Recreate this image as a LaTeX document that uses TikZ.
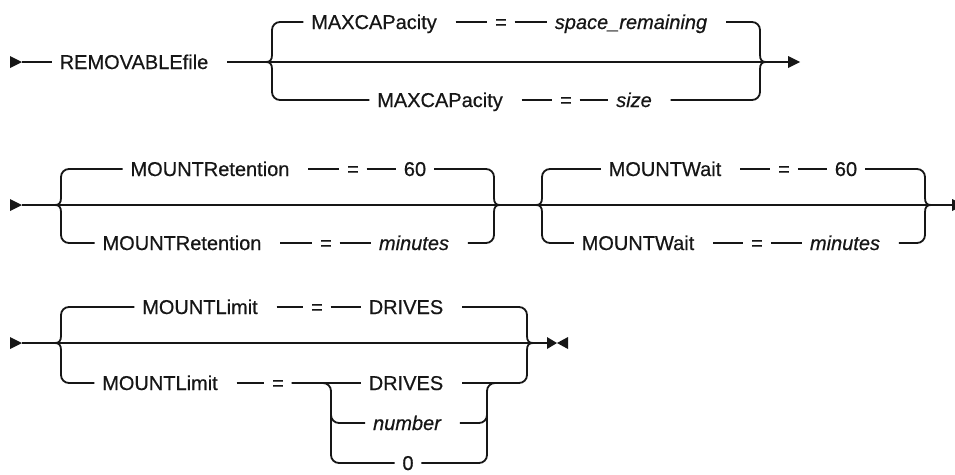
\documentclass[tikz,border=0pt]{standalone}
\usepackage{fontspec}
\setmainfont{Liberation Sans}[FakeBold=0.5]
\usepackage{tikz}
\usetikzlibrary{arrows.meta}
\definecolor{crail}{HTML}{161616}

\begin{document}
\begin{tikzpicture}[x=1pt, y=-1pt, line width=1.8pt, color=crail,
  kw/.style={inner xsep=7pt, inner ysep=0pt, text height=14pt, text depth=0pt,
    font=\fontsize{20}{24}\selectfont},
  var/.style={kw, font=\fontsize{20}{24}\selectfont\itshape},
  kgap/.style={shorten <=11pt},
  turn/.style={rounded corners=8pt}]
\useasboundingbox (0,0) rectangle (955,474);
\fill[white] (0,0) rectangle (955,474);
%% ------------------------------------------------------------------ REMOVABLEfile
\coordinate (s1) at (22,62);
\coordinate (e1) at (788,62);
\node[kw] (rf) at (134,62) {REMOVABLEfile};
\node[kw] (mc1) at (374,22) {MAXCAPacity};
\node[kw] (q1) at (501,22) {=};
\node[var] (sr) at (631,22) {space\_remaining};
\node[kw] (mc2) at (440,100) {MAXCAPacity};
\node[kw] (q2) at (566,100) {=};
\node[var] (sz) at (634,100) {size};
\draw (s1) -- (rf);
\draw[kgap] (rf) -- (e1);
\draw[turn] (mc1) -| (272,55);
\draw[turn] (mc2) -| (272,69);
\draw[kgap] (mc1) -- (q1);
\draw (q1) -- (sr);
\draw[kgap, turn] (sr) -| (760,55);
\draw[kgap] (mc2) -- (q2);
\draw (q2) -- (sz);
\draw[kgap, turn] (sz) -| (760,69);
%% ------------------------------------------------------------------ MOUNTRetention, MOUNTWait
\coordinate (s2) at (22,205);
\coordinate (e2) at (952,205);
\node[kw] (mr1) at (210,169) {MOUNTRetention};
\node[kw] (q3) at (353,169) {=};
\node[kw] (ra) at (415,169) {60};
\node[kw] (mr2) at (182,243) {MOUNTRetention};
\node[kw] (q4) at (326,243) {=};
\node[var] (rb) at (414,243) {minutes};
\node[kw] (mw1) at (665,169) {MOUNTWait};
\node[kw] (q5) at (784,169) {=};
\node[kw] (wa) at (846,169) {60};
\node[kw] (mw2) at (638,243) {MOUNTWait};
\node[kw] (q6) at (757,243) {=};
\node[var] (wb) at (845,243) {minutes};
\draw (s2) -- (e2);
\draw[turn] (mr1) -| (61,198);
\draw[turn] (mr2) -| (61,212);
\draw[kgap] (mr1) -- (q3);
\draw (q3) -- (ra);
\draw[turn] (ra) -| (494,198);
\draw[kgap] (mr2) -- (q4);
\draw (q4) -- (rb);
\draw[kgap, turn] (rb) -| (494,212);
\draw[turn] (mw1) -| (542,198);
\draw[turn] (mw2) -| (542,212);
\draw[kgap] (mw1) -- (q5);
\draw (q5) -- (wa);
\draw[turn] (wa) -| (925,198);
\draw[kgap] (mw2) -- (q6);
\draw (q6) -- (wb);
\draw[kgap, turn] (wb) -| (925,212);
%% ------------------------------------------------------------------ MOUNTLimit
\coordinate (s3) at (22,343);
\coordinate (e3) at (547,343);
\node[kw] (ml1) at (200,307) {MOUNTLimit};
\node[kw] (q7) at (317,307) {=};
\node[kw] (da) at (406,307) {DRIVES};
\node[kw] (ml2) at (160,383) {MOUNTLimit};
\node[kw] (q8) at (278,383) {=};
\node[kw] (db) at (406,383) {DRIVES};
\node[var] (nb) at (407,423) {number};
\node[kw] (zr) at (408,463) {0};
\draw (s3) -- (e3);
\draw[turn] (ml1) -| (61,336);
\draw[turn] (ml2) -| (61,350);
\draw[kgap] (ml1) -- (q7);
\draw (q7) -- (da);
\draw[kgap, turn] (da) -| (527,336);
\draw[kgap] (ml2) -- (q8);
\draw (q8) -- (db);
\draw[kgap, turn] (db) -| (527,350);
% the inner choice DRIVES / number / 0
\draw[turn] (q8) -| (331,423) |- (zr);
\draw[turn] (331,400) |- (nb);
\draw[turn] (zr) -| (487,423) |- (497,383);
\draw[kgap, turn] (nb) -| (487,405);
% the tips of the braces
\foreach \x/\y in {272/62, 61/205, 542/205, 61/343}
  \draw (\x,\y-7) .. controls (\x,\y-2) and (\x-2,\y) .. (\x-6,\y) .. controls (\x-2,\y) and (\x,\y+2) .. (\x,\y+7);
\foreach \x/\y in {760/62, 494/205, 925/205, 527/343}
  \draw (\x,\y-7) .. controls (\x,\y-2) and (\x+2,\y) .. (\x+6,\y) .. controls (\x+2,\y) and (\x,\y+2) .. (\x,\y+7);
% start and end marks
\foreach \x/\y in {10/62, 10/205, 10/343, 788/62, 952/205}
  \fill (\x,\y-6) -- (\x+12,\y) -- (\x,\y+6) -- cycle;
\fill (547,337) -- (557,343) -- (547,349) -- cycle;
\fill (568,337) -- (557,343) -- (568,349) -- cycle;
\end{tikzpicture}
\end{document}
